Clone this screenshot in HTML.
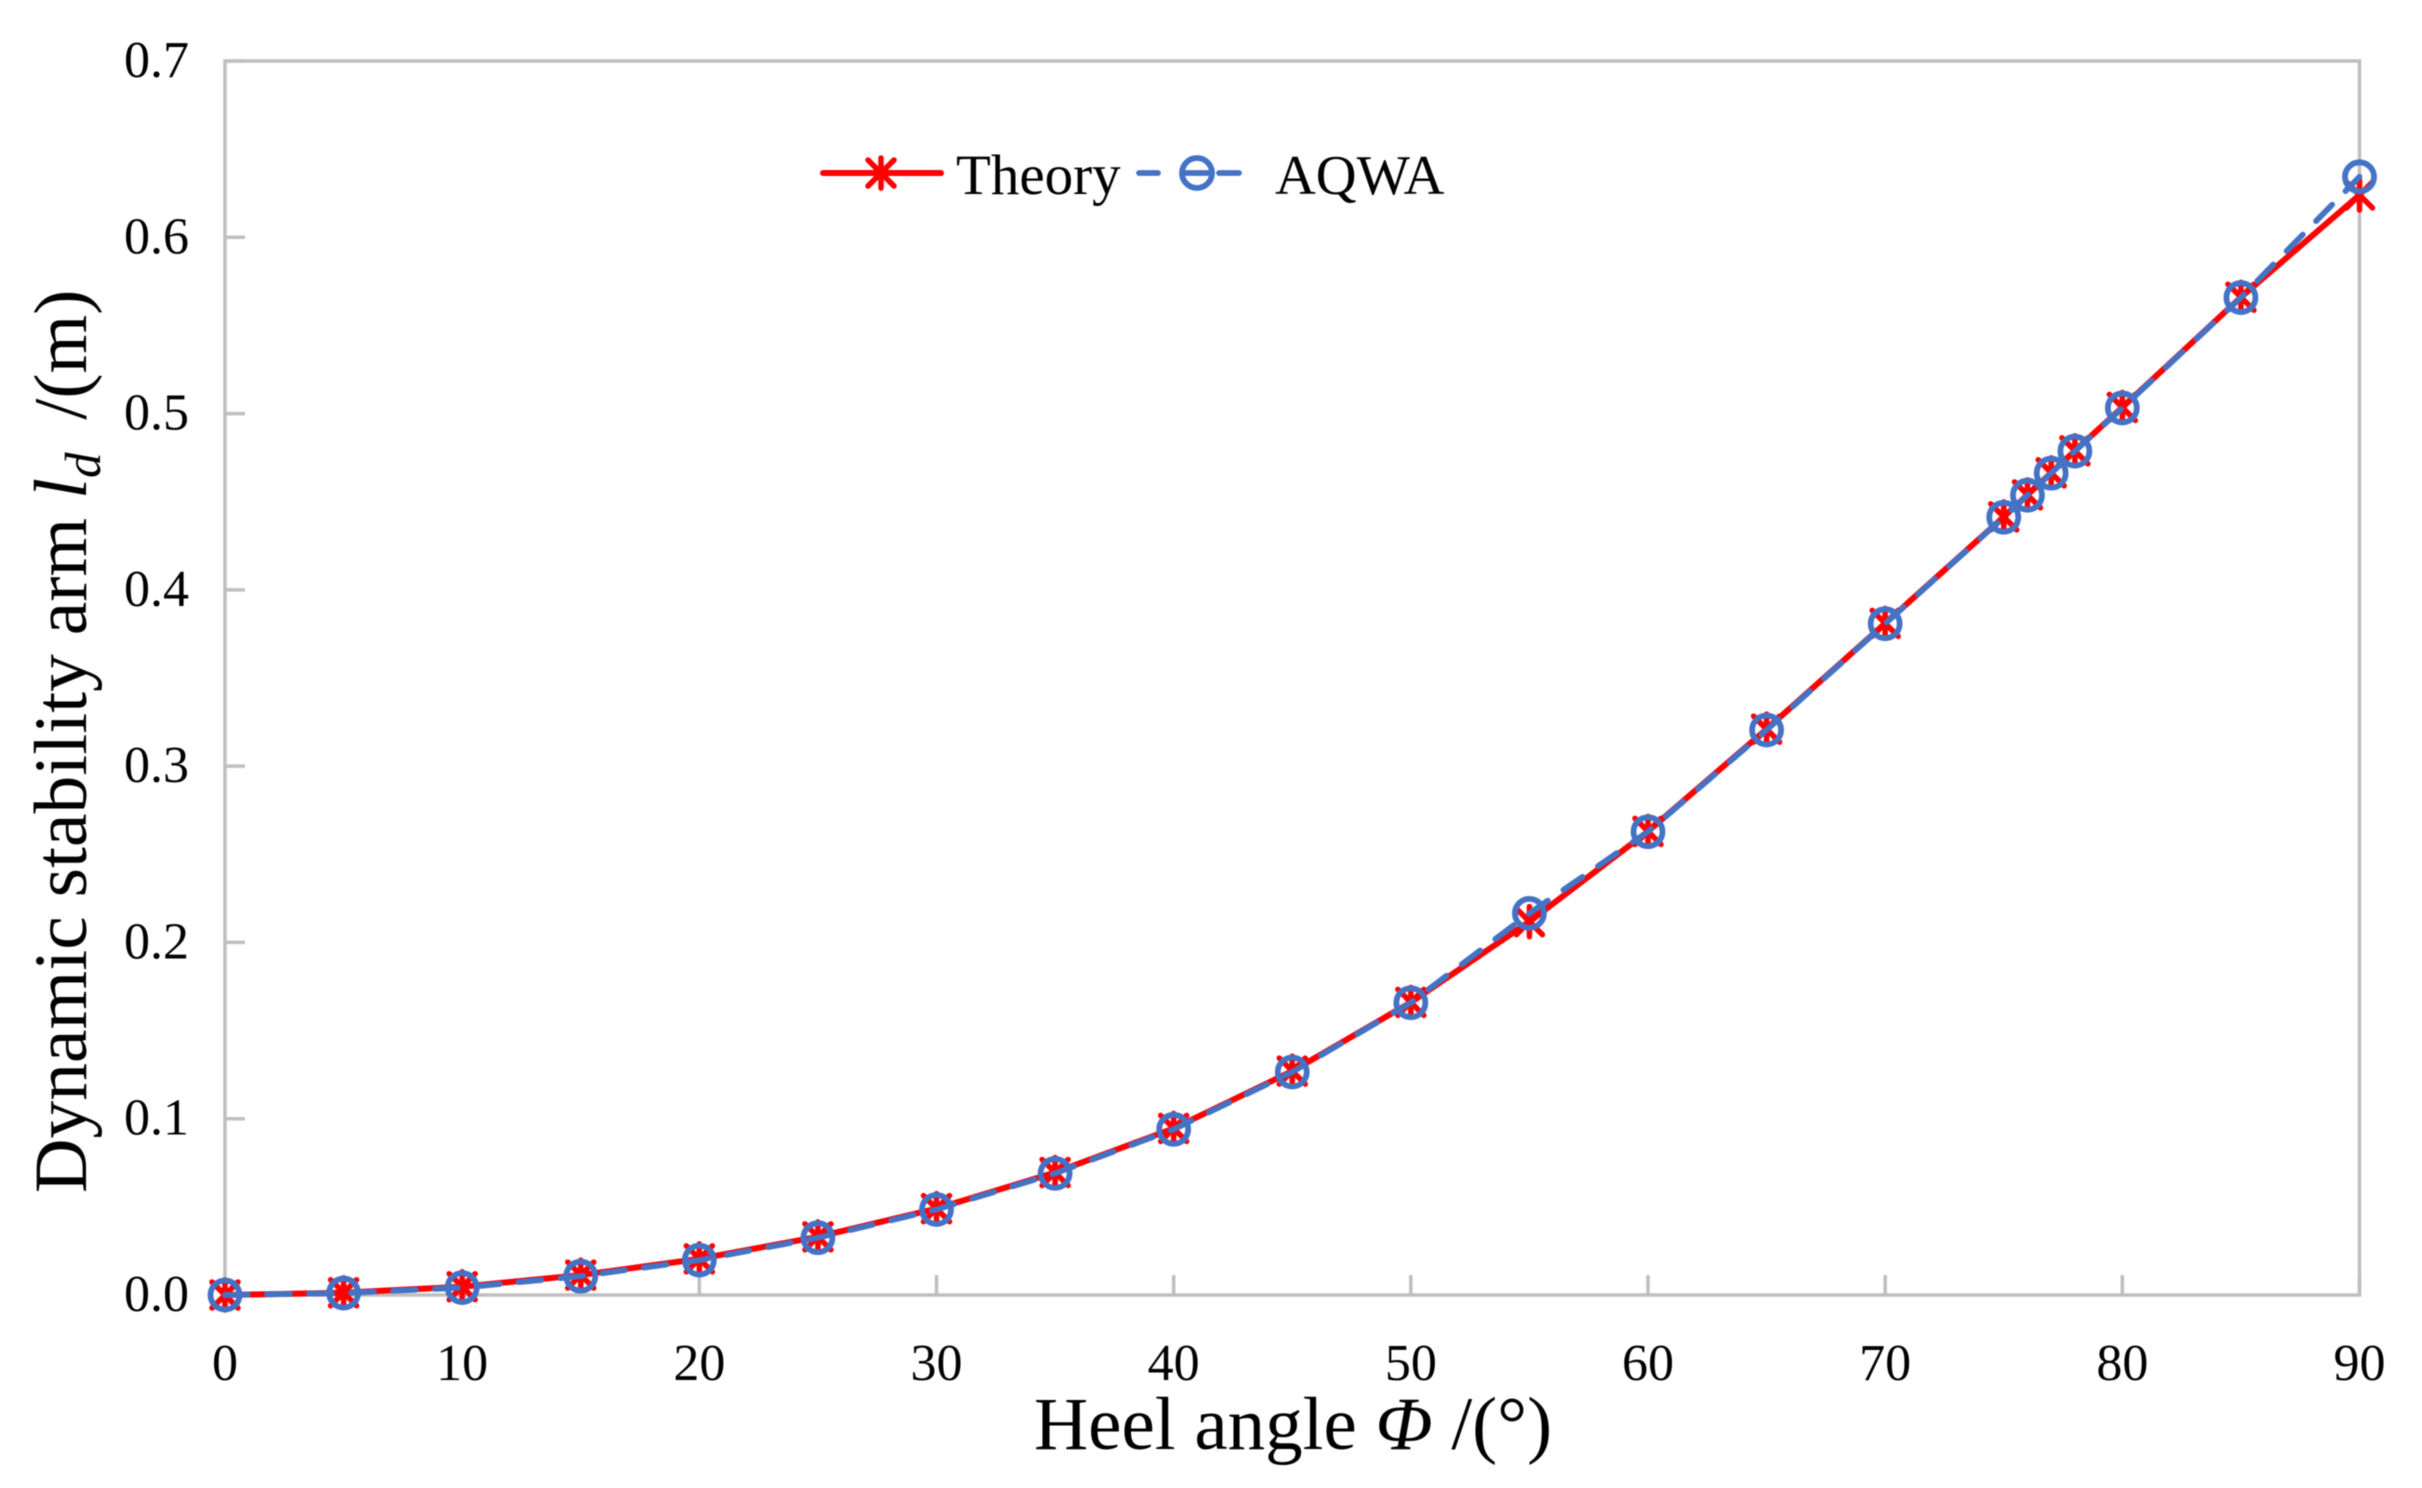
<!DOCTYPE html>
<html lang="en">
<head>
<meta charset="utf-8">
<title>Dynamic stability arm vs heel angle</title>
<style>
html,body{margin:0;padding:0;background:#fff;width:2422px;height:1488px;overflow:hidden}
svg{display:block;font-family:"Liberation Serif",serif;fill:#000;filter:blur(0.6px)}
</style>
</head>
<body>
<svg id="chart" xmlns="http://www.w3.org/2000/svg" width="2422" height="1488" viewBox="0 0 2422 1488">
  <rect x="0" y="0" width="2422" height="1488" fill="#fff"/>
  <rect x="225" y="61" width="2134.5" height="1234" fill="none" stroke="#bfbfbf" stroke-width="3.5"/>
  <g id="ticks"></g>
  <g id="series"></g>
  <text x="1034" y="1449" font-size="75">Heel angle <tspan font-style="italic">Φ</tspan> /(°)</text>
  <text transform="translate(86,1193) rotate(-90)" font-size="75.5">Dynamic stability arm <tspan font-style="italic">l</tspan><tspan font-style="italic" font-size="51" dy="14">d</tspan><tspan dy="-14" dx="14"> /(m)</tspan></text>
  <g id="legend">
    <text x="956" y="194" font-size="57">Theory</text>
    <text x="1275" y="194" font-size="56.5">AQWA</text>
  </g>
</svg>
<script>
const heelAngles = [0,5,10,15,20,25,30,35,40,45,50,55,60,65,70,75,76,77,78,80,85,90];
const theoryValues = [0,0.0013,0.0047,0.0113,0.0205,0.033,0.049,0.0695,0.0945,0.127,0.166,0.2118,0.263,0.321,0.381,0.4414,0.4539,0.4664,0.4789,0.5035,0.566,0.624];
const aqwaValues = [0,0.0011,0.0042,0.0107,0.0198,0.0325,0.0485,0.069,0.094,0.1265,0.1658,0.2165,0.2628,0.3205,0.3808,0.4412,0.4537,0.4662,0.4787,0.5032,0.5658,0.6343];
const xTickLabels = ["0","10","20","30","40","50","60","70","80","90"];
const yTickLabels = ["0.0","0.1","0.2","0.3","0.4","0.5","0.6","0.7"];

const SVG_NS = "http://www.w3.org/2000/svg";
const xScale = v => 225 + (v / 90) * 2134.5;
const yScale = v => 1295 - (v / 0.7) * 1234;

function make(tag, attrs, parent) {
  const el = document.createElementNS(SVG_NS, tag);
  for (const k in attrs) el.setAttribute(k, attrs[k]);
  parent.appendChild(el);
  return el;
}

const tickLayer = document.getElementById("ticks");
xTickLabels.forEach(label => {
  const v = Number(label);
  const tick = make("line", {x1: xScale(v), x2: xScale(v), y1: 1295, y2: 1275, stroke: "#bfbfbf", "stroke-width": 3.5}, tickLayer);
  
  
  const text = make("text", {x: xScale(v), y: 1380, "font-size": 52, "text-anchor": "middle"}, tickLayer);
  text.textContent = label;
  
  
});
yTickLabels.forEach(label => {
  const v = Number(label);
  const tick = make("line", {x1: 225, x2: 245, y1: yScale(v), y2: yScale(v), stroke: "#bfbfbf", "stroke-width": 3.5}, tickLayer);
  
  
  const text = make("text", {x: 189, y: yScale(v) + 16, "font-size": 52, "text-anchor": "end"}, tickLayer);
  text.textContent = label;
  
  
});

function drawStar(parent, cx, cy) {
  const h = 13;
  const d = `M${cx - h} ${cy - h}L${cx + h} ${cy + h}M${cx + h} ${cy - h}L${cx - h} ${cy + h}M${cx} ${cy - h - 2}L${cx} ${cy + h + 2}`;
  const star = make("path", {d: d, fill: "none", stroke: "#ff0000", "stroke-width": 5.5, "stroke-linecap": "round"}, parent);
  
  
}
function drawCircle(parent, cx, cy, r) {
  const circle = make("circle", {cx: cx, cy: cy, r: r, fill: "none", stroke: "#4472c4", "stroke-width": 5.8}, parent);
  
  
}
const toPoints = values => values.map((v, i) => xScale(heelAngles[i]).toFixed(2) + "," + yScale(v).toFixed(2)).join(" ");

const seriesLayer = document.getElementById("series");
const theoryLine = make("polyline", {points: toPoints(theoryValues), fill: "none", stroke: "#ff0000", "stroke-width": 6, "stroke-linejoin": "round"}, seriesLayer);


theoryValues.forEach((v, i) => drawStar(seriesLayer, xScale(heelAngles[i]), yScale(v)));
const aqwaLine = make("polyline", {points: toPoints(aqwaValues), fill: "none", stroke: "#4472c4", "stroke-width": 5.8, "stroke-dasharray": "23 19", "stroke-linecap": "round"}, seriesLayer);


aqwaValues.forEach((v, i) => drawCircle(seriesLayer, xScale(heelAngles[i]), yScale(v), 14.5));

const legend = document.getElementById("legend");
const legendRed = make("line", {x1: 823, x2: 941, y1: 173, y2: 173, stroke: "#ff0000", "stroke-width": 6, "stroke-linecap": "round"}, legend);


drawStar(legend, 881, 173);
const legendBlue = make("path", {d: "M1139 173H1158M1183 173H1211M1219 173H1239", fill: "none", stroke: "#4472c4", "stroke-width": 5.8, "stroke-linecap": "round"}, legend);


drawCircle(legend, 1197, 173, 15);
</script>
</body>
</html>
